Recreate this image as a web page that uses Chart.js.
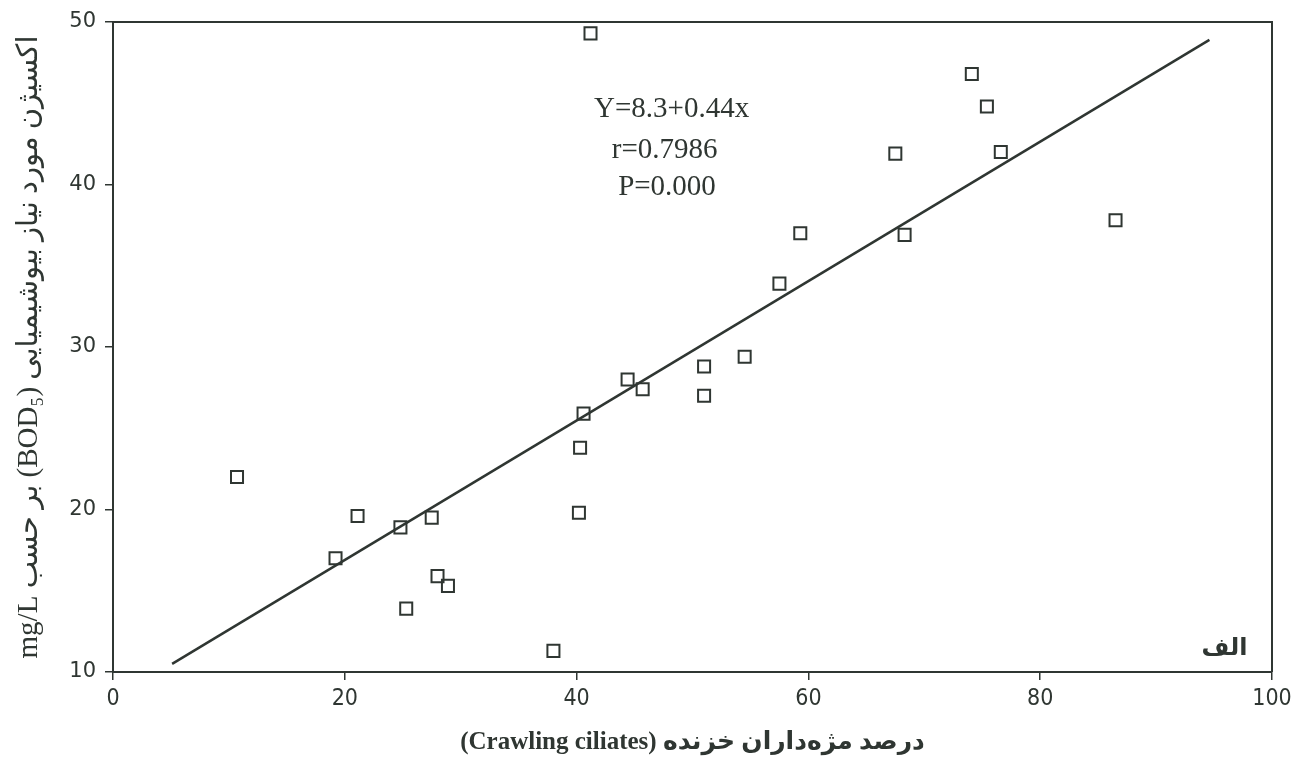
<!DOCTYPE html>
<html>
<head>
<meta charset="utf-8">
<script src="https://cdn.jsdelivr.net/npm/chart.js@4"></script>
<style>
  html, body { margin: 0; padding: 0; background: #fff; }
  #wrap { width: 1300px; height: 760px; }
</style>
</head>
<body>
<div id="wrap"><canvas id="myChart" width="1300" height="760"></canvas></div>
<script>
// crawling ciliates (%) vs BOD5 (mg/L)
const crawlingPct = [10.7, 19.2, 21.1, 24.8, 25.3, 27.5, 28.0, 28.9, 38.0, 40.2, 40.3, 40.6, 41.2,
  44.4, 45.7, 51.0, 51.0, 54.5, 57.5, 59.3, 67.5, 68.3, 74.1, 75.4, 76.6, 86.5];
const bodValues = [22.0, 17.0, 19.6, 18.9, 13.9, 19.5, 15.9, 15.3, 11.3, 19.8, 23.8, 25.9, 49.3,
  28.0, 27.4, 28.8, 27.0, 29.4, 33.9, 37.0, 41.9, 36.9, 46.8, 44.8, 42.0, 37.8];

// regression line ends as drawn
const fitX = [5.1, 94.6];
const fitY = [10.5, 48.9];

const statLines = ['Y=8.3+0.44x', 'r=0.7986', 'P=0.000'];
const statX = [48.2, 47.6, 47.8];
const statY = [44.6, 42.1, 39.85];

const panelLabel = 'الف';

const xTitle = '(Crawling ciliates) درصد مژه‌داران خزنده';
const yTitle = 'mg/L بر حسب (BOD\u2085) اکسیژن مورد نیاز بیوشیمیایی';

const ink = '#2f3632';

let points = [];
for (let i = 0; i < crawlingPct.length; i++) {
  points.push({ x: crawlingPct[i], y: bodValues[i] });
}
let fitPoints = fitX.map((v, i) => ({ x: v, y: fitY[i] }));

// frame + the text notes
const extras = {
  id: 'extras',
  afterDraw(chart) {
    const ctx = chart.ctx;
    const a = chart.chartArea;
    const xs = chart.scales.x, ys = chart.scales.y;
    ctx.save();
    ctx.strokeStyle = ink;
    ctx.lineWidth = 2;
    ctx.beginPath();
    ctx.moveTo(a.left, a.top);
    ctx.lineTo(a.right, a.top);
    ctx.lineTo(a.right, a.bottom);
    ctx.stroke();

    ctx.fillStyle = ink;
    ctx.font = '29px "Liberation Serif", "Times New Roman", serif';
    ctx.textAlign = 'center';
    ctx.textBaseline = 'middle';
    for (let i = 0; i < statLines.length; i++) {
      ctx.fillText(statLines[i], xs.getPixelForValue(statX[i]), ys.getPixelForValue(statY[i]));
    }

    ctx.font = 'bold 24px "DejaVu Sans", sans-serif';
    ctx.fillText(panelLabel, xs.getPixelForValue(95.9), ys.getPixelForValue(11.4));
    ctx.restore();
  }
};

const ctx = document.getElementById('myChart').getContext('2d');
const chart = new Chart(ctx, {
  type: 'scatter',
  data: {
    datasets: [
      {
        label: 'data',
        data: points,
        pointStyle: 'rect',
        pointRadius: 8.5,
        pointBorderWidth: 2,
        pointBorderColor: ink,
        pointBackgroundColor: 'rgba(0,0,0,0)',
        showLine: false
      },
      {
        label: 'fit',
        type: 'line',
        data: fitPoints,
        borderColor: ink,
        borderWidth: 2.5,
        pointRadius: 0,
        fill: false
      }
    ]
  },
  options: {
    responsive: false,
    animation: false,
    layout: { padding: { left: 0, top: 22, right: 28, bottom: 0 } },
    plugins: {
      legend: { display: false },
      tooltip: { enabled: false }
    },
    scales: {
      x: {
        type: 'linear',
        min: 0,
        max: 100,
        afterFit: (s) => { s.height = 88; },
        ticks: {
          stepSize: 20,
          color: ink,
          padding: 5,
          font: { family: '"DejaVu Sans Condensed", "DejaVu Sans", sans-serif', size: 23 }
        },
        grid: { drawOnChartArea: false, drawTicks: true, tickLength: 8, color: ink, lineWidth: 1.5 },
        border: { display: true, color: ink, width: 2 },
        title: {
          display: true,
          text: xTitle,
          color: ink,
          padding: { top: 0, bottom: 2 },
          font: { family: '"Liberation Serif", "DejaVu Sans", serif', size: 25, weight: 'bold' }
        }
      },
      y: {
        type: 'linear',
        min: 10,
        max: 50,
        afterFit: (s) => { s.width = 113; },
        ticks: {
          stepSize: 10,
          color: ink,
          padding: 9,
          font: { family: '"DejaVu Sans", sans-serif', size: 21 }
        },
        grid: { drawOnChartArea: false, drawTicks: true, tickLength: 8, color: ink, lineWidth: 1.5 },
        border: { display: true, color: ink, width: 2 },
        title: {
          display: true,
          text: yTitle,
          color: ink,
          padding: { top: 12, bottom: 0 },
          font: { family: '"Liberation Serif", "DejaVu Sans", serif', size: 29 }
        }
      }
    }
  },
  plugins: [extras]
});
</script>
</body>
</html>
